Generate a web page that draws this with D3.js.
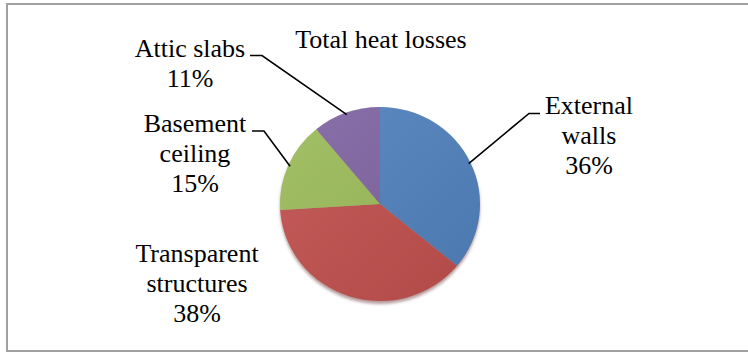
<!DOCTYPE html>
<meta charset="utf-8">
<style>
body { margin: 0; background: #fff; }
svg { display: block; }
</style>
<body>
<svg id="chart" width="748" height="352"></svg>
<script src="https://d3js.org/d3.v7.min.js"></script>
<script>
// data, clockwise from 12 o'clock
var categories = ["External walls", "Transparent structures", "Basement ceiling", "Attic slabs"];
var values = [36, 38, 15, 11];
var colors = ["#4f81bd", "#c0504d", "#9bbb59", "#8064a2"];
var title = "Total heat losses";

// label layout: lines, centre x, first baseline, leader elbow (x, y) and end of horizontal stub
var labelLayout = [
  {lines: ["External", "walls", "36%"], x: 589, y: 114, ex: 529, ey: 113.5, sx: 540},
  {lines: ["Transparent", "structures", "38%"], x: 197, y: 262, ex: null},
  {lines: ["Basement", "ceiling", "15%"], x: 195, y: 132, ex: 264, ey: 131, sx: 252},
  {lines: ["Attic slabs", "11%"], x: 190, y: 57, ex: 262, ey: 55.5, sx: 250}
];

var serif = "'Liberation Serif', 'Times New Roman', Times, 'DejaVu Serif', serif";

var svg = d3.select("#chart");
var cx = 380, cy = 204, r = 100, ky = 0.97;

// outer frame
svg.append("rect")
  .attr("x", 7).attr("y", 4)
  .attr("width", 760).attr("height", 347)
  .attr("fill", "none")
  .attr("stroke", "#a0a0a0")
  .attr("stroke-width", 2);

var defs = svg.append("defs");
var shade = defs.append("linearGradient").attr("id", "shade")
  .attr("x1", "0%").attr("y1", "0%").attr("x2", "100%").attr("y2", "100%");
shade.append("stop").attr("offset", "0%").attr("stop-color", "#fff").attr("stop-opacity", 0.08);
shade.append("stop").attr("offset", "100%").attr("stop-color", "#000").attr("stop-opacity", 0.08);
defs.append("filter").attr("id", "blur")
  .append("feGaussianBlur").attr("stdDeviation", 1.5);

var pie = d3.pie().sort(null).value(d => d);
var arcs = pie(values);
var arc = d3.arc().innerRadius(0).outerRadius(r);

var g = svg.append("g")
  .attr("transform", "translate(" + cx + "," + cy + ") scale(1," + ky + ")");

// soft shadow under the pie
g.append("circle")
  .attr("cx", 0).attr("cy", 3).attr("r", r)
  .attr("fill", "#5a2020").attr("opacity", 0.45)
  .attr("filter", "url(#blur)");

g.selectAll("path.slice")
  .data(arcs)
  .enter()
  .append("path")
  .attr("class", "slice")
  .attr("d", arc)
  .attr("fill", (d, i) => colors[i]);

g.append("circle").attr("r", r).attr("fill", "url(#shade)");

// title
svg.append("text")
  .attr("x", 381).attr("y", 48)
  .attr("text-anchor", "middle")
  .style("font-family", serif)
  .style("font-size", "26px")
  .text(title);

// labels
labelLayout.forEach(function(L, i) {
  var t = svg.append("text")
    .attr("text-anchor", "middle")
    .style("font-family", serif)
    .style("font-size", "26px");
  L.lines.forEach(function(s, j) {
    t.append("tspan").attr("x", L.x).attr("y", L.y + j * 30).text(s);
  });
  if (L.ex != null) {
    var a = (arcs[i].startAngle + arcs[i].endAngle) / 2;
    var px = cx + Math.sin(a) * r * 0.98;
    var py = cy - Math.cos(a) * r * 0.98 * ky;
    svg.append("path")
      .attr("d", d3.line()([[L.sx, L.ey], [L.ex, L.ey], [px, py]]))
      .attr("fill", "none")
      .attr("stroke", "#000")
      .attr("stroke-width", 1.6);
  }
});
</script>
</body>
